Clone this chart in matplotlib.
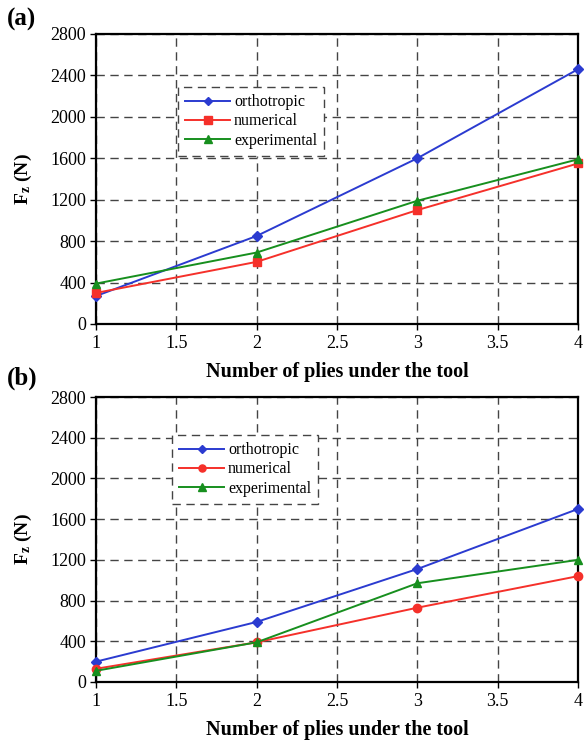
import matplotlib
matplotlib.use("Agg")
import matplotlib.pyplot as plt

plies = [1, 2, 3, 4]

# Panel (a)
a_orthotropic = [270, 850, 1600, 2460]
a_numerical = [300, 600, 1100, 1550]
a_experimental = [390, 690, 1190, 1590]

# Panel (b)
b_orthotropic = [200, 590, 1110, 1700]
b_numerical = [130, 390, 730, 1040]
b_experimental = [110, 390, 970, 1200]

x_ticks = [1, 1.5, 2, 2.5, 3, 3.5, 4]
x_tick_labels = ["1", "1.5", "2", "2.5", "3", "3.5", "4"]
y_ticks = [0, 400, 800, 1200, 1600, 2000, 2400, 2800]

series_names = ["orthotropic", "numerical", "experimental"]

plt.rcParams["font.family"] = ["Liberation Serif", "DejaVu Serif"]
plt.rcParams["mathtext.fontset"] = "custom"
plt.rcParams["mathtext.rm"] = "Liberation Serif"
plt.rcParams["mathtext.bf"] = "Liberation Serif:bold"
plt.rcParams["mathtext.it"] = "Liberation Serif:italic"

fig = plt.figure(figsize=(5.84, 7.40), dpi=100)
W, H = 584, 740


def add_axes_px(left, top, right, bottom):
    return fig.add_axes([left / W, 1 - bottom / H, (right - left) / W, (bottom - top) / H])


def style_panel(ax, series, markers, legend_loc):
    colors = ["#2b3bd0", "#f5302a", "#178f1e"]
    sizes = [5, 6, 6]
    handles = []
    for vals, m, c, s, name in zip(series, markers, colors, sizes, series_names):
        h, = ax.plot(plies, vals, color=c, marker=m, markersize=s, lw=1.4,
                     label=name, clip_on=False, zorder=5)
        handles.append(h)
    ax.set_xlim(1, 4)
    ax.set_ylim(0, 2800)
    ax.set_xticks(x_ticks)
    ax.set_xticklabels(x_tick_labels)
    ax.set_yticks(y_ticks)
    ax.tick_params(axis="both", labelsize=13, direction="out", length=4, width=1)
    ax.tick_params(axis="x", pad=4)
    ax.tick_params(axis="y", pad=3)
    ax.grid(True, color="#444444", linestyle=(0, (6, 4)), lw=1.0)
    for sp in ax.spines.values():
        sp.set_linewidth(1.6)
    ax.set_xlabel("Number of plies under the tool", fontsize=14.5, fontweight="bold", labelpad=7)
    ax.set_ylabel(r"$\mathbf{F_z}$ $\mathbf{(N)}$", fontsize=14, labelpad=12)
    leg = ax.legend(handles=handles, loc="upper left", bbox_to_anchor=legend_loc,
                    borderaxespad=0, fontsize=11.5, frameon=True, fancybox=False,
                    handlelength=2.8, handletextpad=0.25, borderpad=0.45,
                    labelspacing=0.2, markerscale=0.85)
    fr = leg.get_frame()
    fr.set_edgecolor("#444444")
    fr.set_linestyle((0, (6, 4)))
    fr.set_linewidth(1.0)
    fr.set_facecolor("white")
    fr.set_alpha(1.0)
    return ax


ax_a = add_axes_px(96, 34, 578, 324)
style_panel(ax_a, [a_orthotropic, a_numerical, a_experimental], ["D", "s", "^"],
            ((178 - 96) / 482, 1 - (87 - 34) / 290))

ax_b = add_axes_px(96, 397, 578, 682)
style_panel(ax_b, [b_orthotropic, b_numerical, b_experimental], ["D", "o", "^"],
            ((172 - 96) / 482, 1 - (435 - 397) / 285))

fig.text(7 / W, 1 - 19 / H, "(a)", fontsize=18, fontweight="bold", va="center", ha="left")
fig.text(7 / W, 1 - 378 / H, "(b)", fontsize=18, fontweight="bold", va="center", ha="left")

fig.savefig("out.png", dpi=100)
